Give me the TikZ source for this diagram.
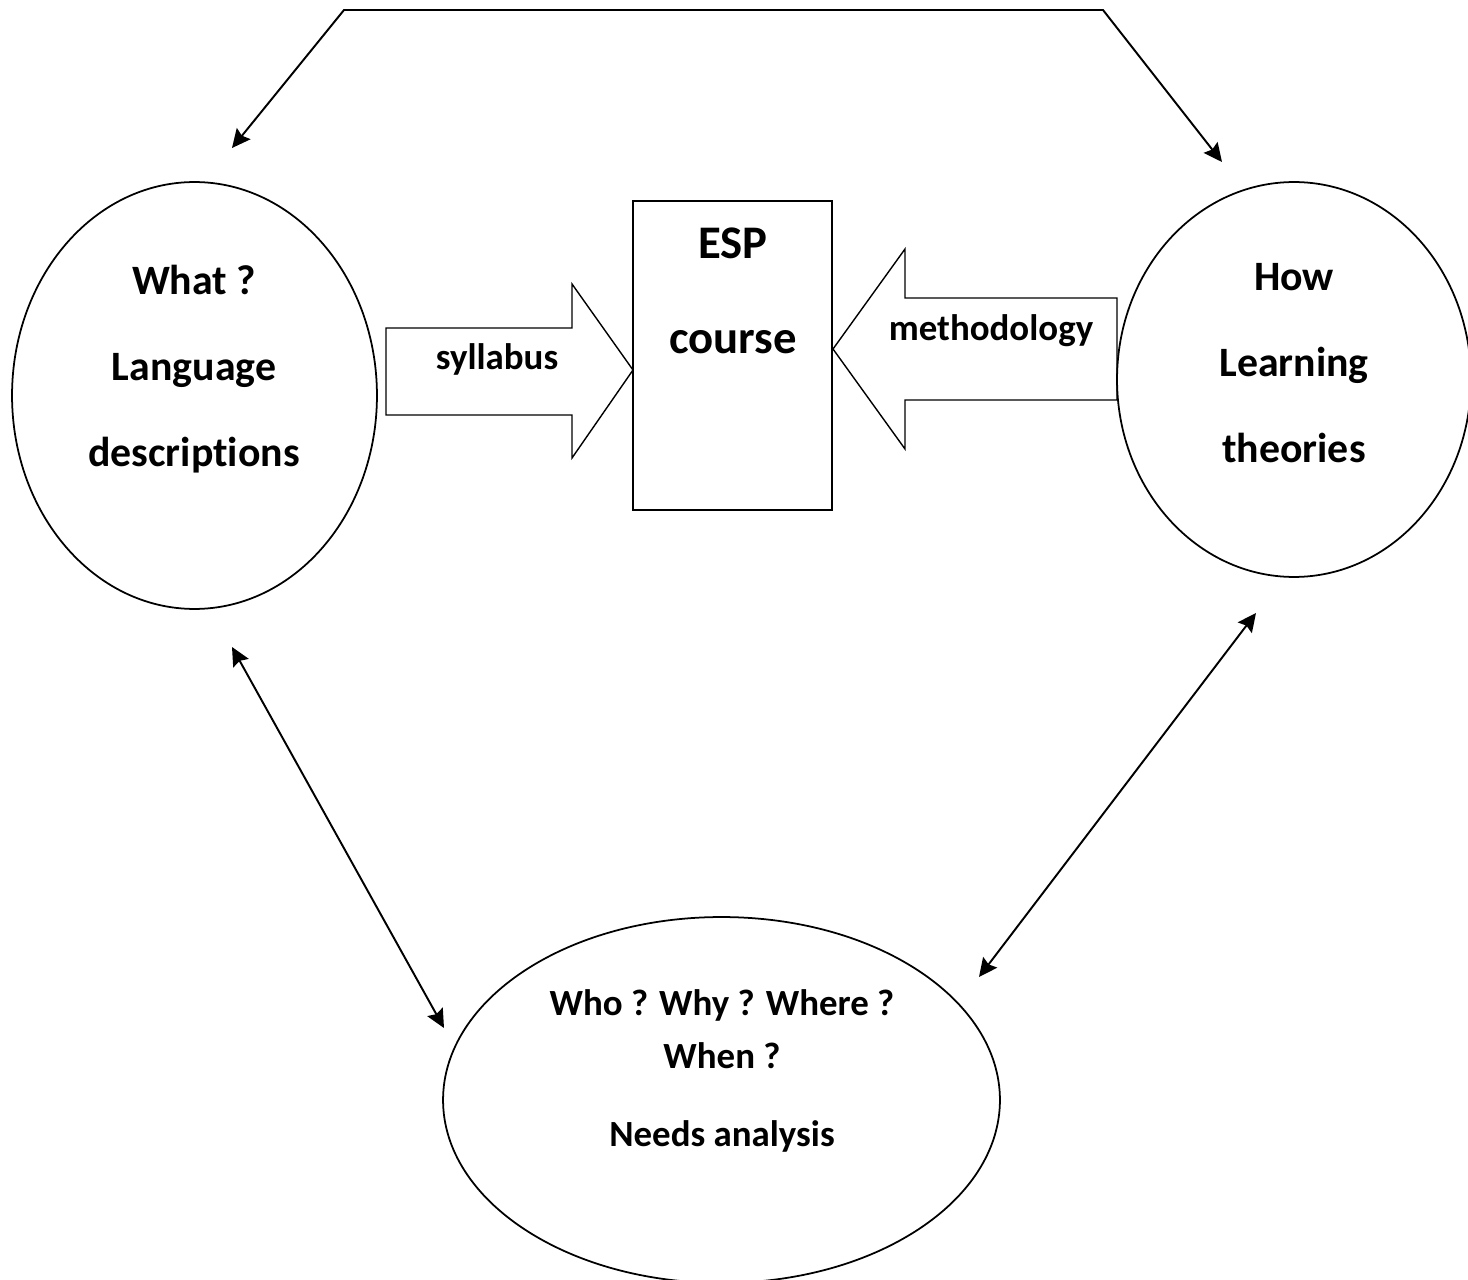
\documentclass[tikz,border=0pt]{standalone}
\usepackage{fontspec}
\setmainfont[Ligatures=NoCommon]{Carlito}
\usetikzlibrary{arrows.meta,shapes.geometric}

\begin{document}
\begin{tikzpicture}[x=0.02cm,y=-0.02cm,
  oval/.style={draw,ellipse,line width=1pt,inner sep=0pt},
  txt/.style={font=\bfseries\fontsize{23.8}{48.8}\selectfont,align=center,inner sep=0pt},
  small/.style={font=\bfseries\fontsize{21}{30}\selectfont,align=center,inner sep=0pt},
  link/.style={line width=1.1pt,{Stealth[length=10.5pt,width=10pt,inset=1.5pt]}-{Stealth[length=10.5pt,width=10pt,inset=1.5pt]}}]
\useasboundingbox (0,0) rectangle (1468,1280);
% the three circles
\node[oval,minimum width=7.3cm,minimum height=8.54cm] (what) at (194.5,395.5) {};
\node[oval,minimum width=7.08cm,minimum height=7.9cm] (how) at (1294,379.5) {};
\node[oval,minimum width=11.14cm,minimum height=7.32cm] (who) at (721.5,1100) {};
\node[txt] (whattxt) at (194,369) {What ?\\Language\\descriptions};
\node[txt] (howtxt) at (1294,363) {How\\Learning\\theories};
\node[small] (whotxt) at (722,1071) {Who ? Why ? Where ?\\When ?\\[14.7pt]Needs analysis};
% course box
\node[draw,line width=0.8pt,minimum width=3.98cm,minimum height=6.18cm,inner sep=0pt] (esp) at (732.5,355.5) {};
\node[font=\bfseries\fontsize{26.6}{53.9}\selectfont,align=center,inner sep=0pt] (esptxt) at (733,291) {ESP\\course};
% block arrows
\draw[line width=0.8pt] (386,328) -- (572,328) -- (572,284) -- (633,370) -- (572,458) -- (572,415) -- (386,415) -- cycle;
\node[small] (syl) at (497,359) {syllabus};
\draw[line width=0.8pt] (1117,298) -- (905,298) -- (905,249) -- (833,349) -- (905,449) -- (905,400) -- (1117,400) -- cycle;
\node[small] (meth) at (991,331) {methodology};
% connectors
\coordinate (wtop) at (232,148);
\coordinate (htop) at (1222,162);
\coordinate (wbot) at (232,647);
\coordinate (hbot) at (1256,613);
\coordinate (wleft) at (444,1028);
\coordinate (wright) at (979,977);
\draw[link] (wtop) -- (344,10) -- (1103,10) -- (htop);
\draw[link] (wbot) -- (wleft);
\draw[link] (hbot) -- (wright);
\end{tikzpicture}
\end{document}
